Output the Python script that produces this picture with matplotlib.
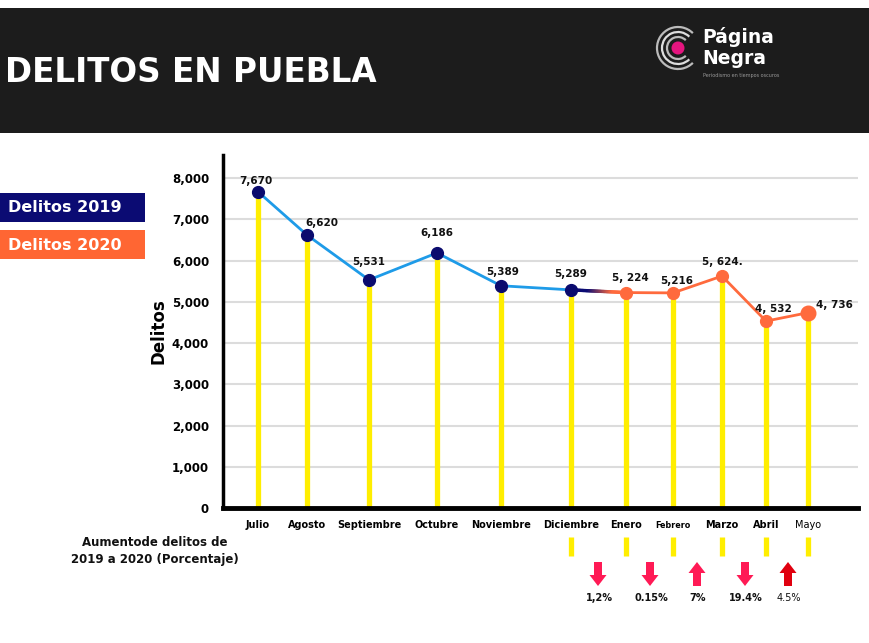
import matplotlib.pyplot as plt
import numpy as np
from matplotlib.patches import Rectangle, Arc, Circle, Polygon
from matplotlib.collections import LineCollection
from matplotlib.ticker import FuncFormatter

meses = ["Julio", "Agosto", "Septiembre", "Octubre", "Noviembre", "Diciembre",
         "Enero", "Febrero", "Marzo", "Abril", "Mayo"]
delitos = np.array([7670, 6620, 5531, 6186, 5389, 5289, 5224, 5216, 5624, 4532, 4736])
etiquetas = ["7,670", "6,620", "5,531", "6,186", "5,389", "5,289",
             "5, 224", "5,216", "5, 624.", "4, 532", "4, 736"]
n_2019 = 6  # Julio..Diciembre son 2019

cambio_txt = ["1,2%", "0.15%", "7%", "19.4%", "4.5%"]
cambio_dir = ["down", "down", "up", "down", "up"]

# layout (posicion horizontal de cada mes, en pixeles del lienzo)
xpos = np.array([258, 307, 369, 437, 501, 571, 626, 673, 722, 766, 808])
lbl_off = [(-2, 11), (15, 12), (0, 18), (0, 20), (2, 14), (0, 16),
           (4, 15), (4, 12), (0, 14), (7, 12), (26, 8)]
arrow_x = [598, 650, 697, 745, 788]

W, H = 870, 643
fig = plt.figure(figsize=(8.7, 6.43), dpi=100)

bg = fig.add_axes([0, 0, 1, 1])
bg.set_xlim(0, W)
bg.set_ylim(H, 0)
bg.axis("off")

# header
bg.add_patch(Rectangle((0, 8), W, 125, color="#1c1c1c", lw=0))
bg.text(5, 73, "DELITOS EN PUEBLA", color="white", fontsize=23.5, fontweight="bold",
        va="center", ha="left", family="DejaVu Sans")

# logo
for r, c in [(21, "#bbbbbb"), (16, "#dddddd"), (11, "#bbbbbb")]:
    bg.add_patch(Arc((678, 48), 2 * r, 2 * r, theta1=45, theta2=315, color=c, lw=1.6))
bg.add_patch(Circle((678, 48), 6.5, color="#e5157f", lw=0))
bg.text(702, 37, "Página", color="white", fontsize=13.5, fontweight="bold", va="center")
bg.text(702, 58, "Negra", color="white", fontsize=13.5, fontweight="bold", va="center")
bg.text(703, 76, "Periodismo en tiempos oscuros", color="#999999", fontsize=3.5, va="center")

# legend boxes
bg.add_patch(Rectangle((0, 193), 145, 29, color="#0b0b73", lw=0))
bg.text(8, 208, "Delitos 2019", color="white", fontsize=11.5, fontweight="bold", va="center")
bg.add_patch(Rectangle((0, 230), 145, 29, color="#ff6633", lw=0))
bg.text(8, 245, "Delitos 2020", color="white", fontsize=11.5, fontweight="bold", va="center")

bg.text(155, 551, "Aumentode delitos de\n2019 a 2020 (Porcentaje)", fontsize=8.5,
        fontweight="bold", ha="center", va="center", linespacing=1.3, color="#111111")

# lower yellow stems + arrows
for m in meses[5:]:
    x = xpos[meses.index(m)]
    bg.plot([x, x], [537, 556], color="#ffee00", lw=3.8, solid_capstyle="butt")
for x, t, d in zip(arrow_x, cambio_txt, cambio_dir):
    col = "#e0000f" if t == "4.5%" else "#ff1a55"
    s = 1 if d == "down" else -1
    yc = 574
    pts = [(x - 4, yc - s * 12), (x + 4, yc - s * 12), (x + 4, yc + s * 1),
           (x + 8.5, yc + s * 1), (x, yc + s * 12), (x - 8.5, yc + s * 1), (x - 4, yc + s * 1)]
    bg.add_patch(Polygon(pts, closed=True, color=col, lw=0))
    bg.text(x + 1, 598, t, fontsize=7, ha="center", va="center",
            fontweight="normal" if t == "4.5%" else "bold", color="#111111")

# main axes
x0, x1, y0, y1 = 223, 858, 155, 508
ax = fig.add_axes([x0 / W, 1 - y1 / H, (x1 - x0) / W, (y1 - y0) / H])
ax.patch.set_alpha(0)
ax.set_xlim(x0, x1)
ax.set_ylim(0, 8560)

ax.vlines(xpos, 0, delitos, color="#ffee00", lw=3.8, zorder=1)

ax.plot(xpos[:n_2019], delitos[:n_2019], color="#1e9be8", lw=2, zorder=3)
ax.plot(xpos[n_2019:], delitos[n_2019:], color="#ff6a3d", lw=2, zorder=3)

# transition segment Diciembre -> Enero
t = np.linspace(0, 1, 40)
gx = xpos[n_2019 - 1] + t * (xpos[n_2019] - xpos[n_2019 - 1])
gy = delitos[n_2019 - 1] + t * (delitos[n_2019] - delitos[n_2019 - 1])
segs = np.stack([np.column_stack([gx[:-1], gy[:-1]]), np.column_stack([gx[1:], gy[1:]])], axis=1)
c0 = np.array([11, 11, 115]) / 255
c1 = np.array([255, 106, 61]) / 255
w = np.clip((t[:-1] - 0.3) / 0.45, 0, 1)[:, None]
ax.add_collection(LineCollection(segs, colors=c0 * (1 - w) + c1 * w, lw=2.4,
                                 capstyle="round", zorder=3))

ax.plot(xpos[:n_2019], delitos[:n_2019], "o", color="#0b0b6e", ms=8.5, zorder=4)
ax.plot(xpos[n_2019:-1], delitos[n_2019:-1], "o", color="#ff6a3d", ms=8.5, zorder=4)
ax.plot(xpos[-1:], delitos[-1:], "o", color="#ff6a3d", ms=10.5, zorder=4)

for x, v, s, (dx, dy) in zip(xpos, delitos, etiquetas, lbl_off):
    ax.annotate(s, (x, v), xytext=(dx, dy), textcoords="offset pixels",
                ha="center", va="center", fontsize=7.5, fontweight="bold", color="#111111")

ax.set_yticks(np.arange(0, 8001, 1000))
ax.yaxis.set_major_formatter(FuncFormatter(lambda v, p: f"{int(v):,}"))
ax.grid(axis="y", color="#dcdcdc", lw=1.5)
ax.set_axisbelow(True)
ax.tick_params(axis="y", length=0, pad=10, labelsize=8.5)
for lb in ax.get_yticklabels():
    lb.set_fontweight("bold")

ax.set_xticks(xpos, meses)
ax.tick_params(axis="x", length=0, pad=9)
for lb in ax.get_xticklabels():
    lb.set_family(["Liberation Sans Narrow", "DejaVu Sans"])
    lb.set_fontweight("bold")
    lb.set_fontsize(7)
    if lb.get_text() == "Febrero":
        lb.set_fontsize(5.8)
    if lb.get_text() == "Mayo":
        lb.set_fontweight("normal")

ax.set_ylabel("Delitos", fontsize=12, fontweight="bold", labelpad=3)
for s in ["top", "right"]:
    ax.spines[s].set_visible(False)
ax.spines["left"].set_linewidth(2.5)
ax.spines["bottom"].set_linewidth(3.5)

fig.savefig("out.png", dpi=100)
